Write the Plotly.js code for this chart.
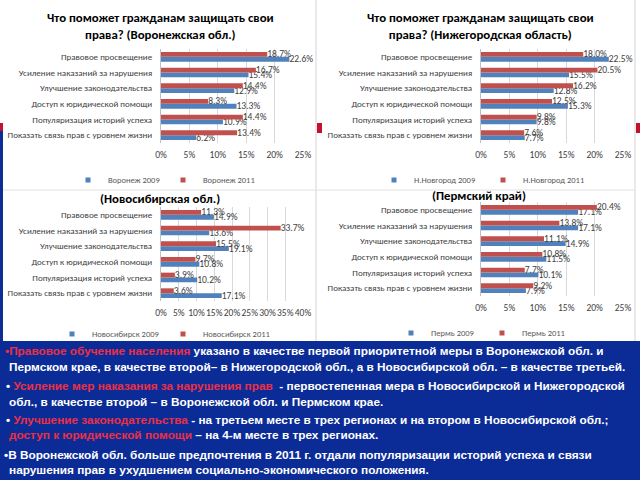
<!DOCTYPE html>
<html><head><meta charset="utf-8">
<script src="https://cdn.plot.ly/plotly-3.0.1.min.js"></script>
<style>html,body{margin:0;padding:0;background:#fff}#chart{width:640px;height:480px}</style>
</head><body><div id="chart"></div>
<script>
const categories = ["Правовое просвещение","Усиление наказаний за нарушения","Улучшение законодательства","Доступ к юридической помощи","Популяризация историй успеха","Показать связь прав с уровнем жизни"];
const voronezh2009 = [22.6,15.4,12.9,13.3,10.9,6.2];
const voronezh2011 = [18.7,16.7,14.4,8.3,14.4,13.4];
const novgorod2009 = [22.5,15.5,12.8,15.3,9.8,7.7];
const novgorod2011 = [18.0,20.5,16.2,12.5,9.8,7.6];
const novosib2009 = [14.9,13.6,19.1,10.8,10.2,17.1];
const novosib2011 = [11.3,33.7,15.5,9.7,3.9,3.6];
const perm2009 = [17.1,17.1,14.9,11.5,10.1,7.9];
const perm2011 = [20.4,13.8,11.1,10.8,7.7,9.2];
const names2009 = ["Воронеж 2009","Н.Новгород 2009","Новосибирск 2009","Пермь 2009"];
const names2011 = ["Воронеж 2011","Н.Новгород 2011","Новосибирск 2011","Пермь 2011"];
const chartTitles = ["Что поможет гражданам защищать свои<br>права? (Воронежская обл.)","Что поможет гражданам защищать свои<br>права? (Нижегородская область)","(Новосибирская обл.)","(Пермский край)"];
const axisMax = [25,25,40,25];

const W=640,H=480;
const px=x=>x/W, py=y=>1-y/H;
const FONT="Carlito, Lato, 'Liberation Sans', sans-serif";
const BLUE="#4f81bd", RED="#c0504d";

const vals2009=[voronezh2009,novgorod2009,novosib2009,perm2009];
const vals2011=[voronezh2011,novgorod2011,novosib2011,perm2011];

// panel geometry (pixels)
const panels=[
 {x0:161,x1:303,y0:49,y1:143,tx:160,ty:[18,34],lx:163,ly:180,ew:50},
 {x0:481,x1:623,y0:49,y1:143,tx:480,ty:[18,34],lx:483,ly:180,ew:64},
 {x0:161,x1:303,y0:207,y1:301,tx:160,ty:[198],lx:163,ly:334,ew:66},
 {x0:481,x1:623,y0:202,y1:296,tx:479,ty:[195],lx:482,ly:333,ew:46}
];

const data=[]; const layout={
 width:W,height:H,margin:{l:0,r:0,t:0,b:0},paper_bgcolor:"#fff",plot_bgcolor:"rgba(0,0,0,0)",
 barmode:"group",bargap:0.38,bargroupgap:0,showlegend:true,
 font:{family:FONT,color:"#404040",size:9},
 annotations:[],shapes:[]
};
const catOrder=categories.slice().reverse();
panels.forEach((p,i)=>{
 const s=i===0?"":String(i+1);
 const xa="x"+s, ya="y"+s, lg="legend"+s;
 const common={type:"bar",orientation:"h",y:categories,xaxis:xa,yaxis:ya,showlegend:false,
   texttemplate:"%{x:.1f}%",textposition:"outside",cliponaxis:false,constraintext:"none",
   textfont:{family:FONT,size:9.5,color:"#404040"},hoverinfo:"skip"};
 data.push(Object.assign({},common,{x:vals2009[i],name:names2009[i],marker:{color:BLUE}}));
 data.push(Object.assign({},common,{x:vals2011[i],name:names2011[i],marker:{color:RED}}));
 // legend entries (small square keys like the reference)
 [[names2009[i],BLUE],[names2011[i],RED]].forEach(([n,c])=>data.push({type:"scatter",mode:"markers",x:[null],y:[null],
   xaxis:xa,yaxis:ya,legend:lg,name:n,showlegend:true,hoverinfo:"skip",marker:{symbol:"square",size:5,color:c}}));
 layout["xaxis"+s]={domain:[px(p.x0),px(p.x1)],anchor:ya,range:[0,axisMax[i]],dtick:5,ticksuffix:"%",
   showgrid:true,gridcolor:"#d9d9d9",gridwidth:1,zeroline:false,showline:false,ticks:"",
   tickangle:0,ticklabelstandoff:4,tickfont:{family:FONT,size:9.5,color:"#404040"},fixedrange:true};
 layout["yaxis"+s]={domain:[py(p.y1),py(p.y0)],anchor:xa,type:"category",categoryorder:"array",categoryarray:catOrder,
   showline:true,linecolor:"#bfbfbf",showgrid:false,ticks:"",ticklabelstandoff:6,
   tickfont:{family:FONT,size:9,color:"#404040"},fixedrange:true};
 layout[lg]={orientation:"h",x:px(p.lx),xanchor:"center",y:py(p.ly),yanchor:"middle",itemwidth:30,
   entrywidth:p.ew,entrywidthmode:"pixels",
   font:{family:FONT,size:8.5,color:"#595959"},bgcolor:"rgba(0,0,0,0)",traceorder:"normal"};
 layout.annotations.push({xref:"paper",yref:"paper",x:px(p.tx),y:py(p.ty.length>1?(p.ty[0]+p.ty[1])/2:p.ty[0]),
   xanchor:"center",yanchor:"middle",showarrow:false,text:"<b>"+chartTitles[i]+"</b>",
   font:{family:FONT,size:12.8,color:"#000"}});
});
// decorations
const rect=(x0,y0,x1,y1,c)=>({type:"rect",xref:"paper",yref:"paper",x0:px(x0),x1:px(x1),y0:py(y1),y1:py(y0),fillcolor:c,line:{width:0},layer:"below"});
const line=(x0,y0,x1,y1,c)=>({type:"line",xref:"paper",yref:"paper",x0:px(x0),x1:px(x1),y0:py(y0),y1:py(y1),line:{color:c,width:1},layer:"below"});
layout.shapes.push(
 line(316,0,316,341,"#d4d4d4"),
 line(635,0,635,341,"#d4d4d4"),
 line(3,190,635,190,"#e0e0e0"),
 rect(0,131,3,341,"#0c2d96"),
 rect(0,123,3,131,"#c8102e"),
 rect(317,123,322,133,"#c8102e"),
 rect(636,123,640,133,"#c8102e"),
 rect(0,341,640,480,"#0b2c97")
);
// slide text
const R=t=>'<span style="color:#ec2f45">'+t+'</span>';
const lines=[
 [3,351,R("•Правовое обучение населения")+" указано в качестве первой приоритетной меры в Воронежской обл. и"],
 [7,367,"Пермском крае, в качестве второй– в Нижегородской обл., а в Новосибирской обл. – в качестве третьей."],
 [4,386,"• "+R("Усиление мер наказания за нарушения прав")+"  - первостепенная мера в Новосибирской и Нижегородской"],
 [7,402,"обл., в качестве второй – в Воронежской обл. и Пермском крае."],
 [4,420,"• "+R("Улучшение законодательства")+" - на третьем месте в трех регионах и на втором в Новосибирской обл.;"],
 [7,435,R("доступ к юридической помощи")+" – на 4-м месте в трех регионах."],
 [2,455,"•В Воронежской обл. больше предпочтения в 2011 г. отдали популяризации историй успеха и связи"],
 [7,470,"нарушения прав в ухудшением социально-экономического положения."]
];
lines.forEach(l=>layout.annotations.push({xref:"paper",yref:"paper",x:px(l[0]),y:py(l[1]),xanchor:"left",yanchor:"middle",
  showarrow:false,align:"left",text:"<b>"+l[2]+"</b>",font:{family:"'Liberation Sans', Arial, sans-serif",size:11.8,color:"#ffffff"}}));

Plotly.newPlot("chart",data,layout,{staticPlot:true,displayModeBar:false});
</script></body></html>
